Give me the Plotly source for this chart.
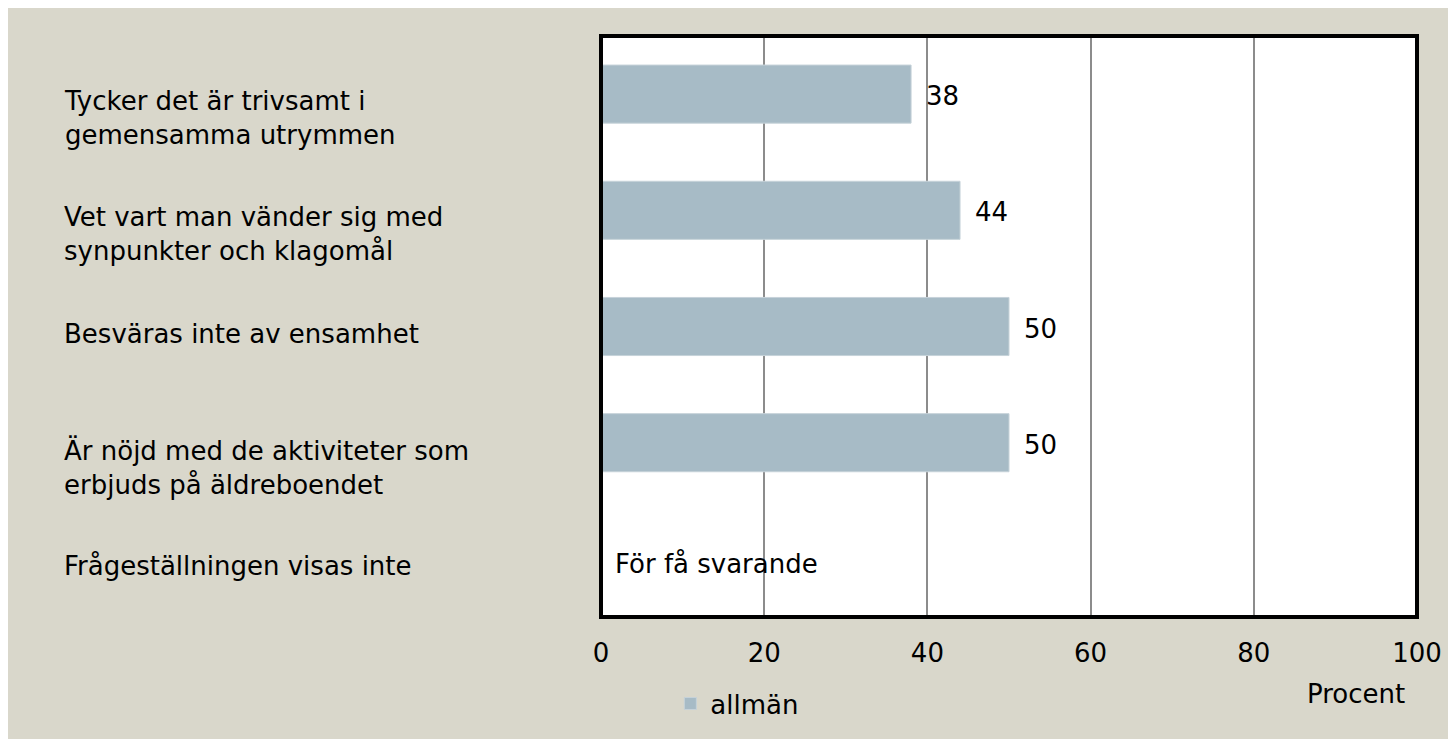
import plotly.graph_objects as go

categories = [
    "Tycker det är trivsamt i<br>gemensamma utrymmen",
    "Vet vart man vänder sig med<br>synpunkter och klagomål",
    "Besväras inte av ensamhet",
    "Är nöjd med de aktiviteter som<br>erbjuds på äldreboendet",
    "Frågeställningen visas inte",
]
values = [38, 44, 50, 50, None]
value_labels = ["38", "44", "50", "50", ""]
series_name = "allmän"
note_text = "För få svarande"
tick_vals = [0, 20, 40, 60, 80, 100]
axis_title = "Procent"

FONT = "Century Gothic, DejaVu Sans, sans-serif"
FS = 26
BAR = "#a7bbc6"
BG = "#d9d7cb"

keys = list(range(len(categories)))

fig = go.Figure()
fig.add_trace(go.Bar(
    y=keys, x=values, orientation="h", name=series_name,
    marker=dict(color=BAR, line=dict(color="#c6d2d9", width=1)),
    width=0.5, hoverinfo="skip",
))

annotations = []
for k, v, t in zip(keys, values, value_labels):
    if v is not None:
        annotations.append(dict(x=v, y=k, xref="x", yref="y", text=t,
                                showarrow=False, xanchor="left", yanchor="middle",
                                xshift=13, yshift=-2, font=dict(family=FONT, size=FS, color="#000")))
for k, c in zip(keys, categories):
    annotations.append(dict(x=-0.6605, y=k, xref="paper", yref="y", text=c,
                            showarrow=False, xanchor="left", yanchor="top", align="left",
                            yshift=10, font=dict(family=FONT, size=FS, color="#000")))
annotations.append(dict(x=0, y=keys[-1], xref="x", yref="y", text=note_text,
                        showarrow=False, xanchor="left", yanchor="middle",
                        xshift=12, yshift=-5, font=dict(family=FONT, size=FS, color="#000")))
annotations.append(dict(x=0.925, y=-0.132, xref="paper", yref="paper", text=axis_title,
                        showarrow=False, xanchor="center", yanchor="middle",
                        font=dict(family=FONT, size=FS, color="#000")))

shapes = [
    dict(type="rect", xref="paper", yref="paper", x0=0, x1=1, y0=0, y1=1,
         line=dict(color="#000", width=4), fillcolor="rgba(0,0,0,0)", layer="above"),
]

fig.update_layout(
    width=1448, height=731,
    margin=dict(l=593, r=39, t=28, b=120),
    paper_bgcolor=BG, plot_bgcolor="#ffffff",
    font=dict(family=FONT, size=FS, color="#000"),
    showlegend=True,
    legend=dict(orientation="h", x=0.085, y=-0.149, xanchor="left", yanchor="middle",
                bgcolor="rgba(0,0,0,0)", font=dict(family=FONT, size=FS)),
    xaxis=dict(range=[0, 100], tickvals=tick_vals, showgrid=True, gridcolor="#8c8c8c",
               gridwidth=2, zeroline=False, showline=False, ticks="",
               ticklabelstandoff=18, fixedrange=True),
    yaxis=dict(range=[len(categories) - 0.5, -0.5], showticklabels=False, showgrid=False,
               zeroline=False, showline=False, ticks="", fixedrange=True),
    annotations=annotations, shapes=shapes,
)

fig.write_html("out.html", config={"displayModeBar": False})
